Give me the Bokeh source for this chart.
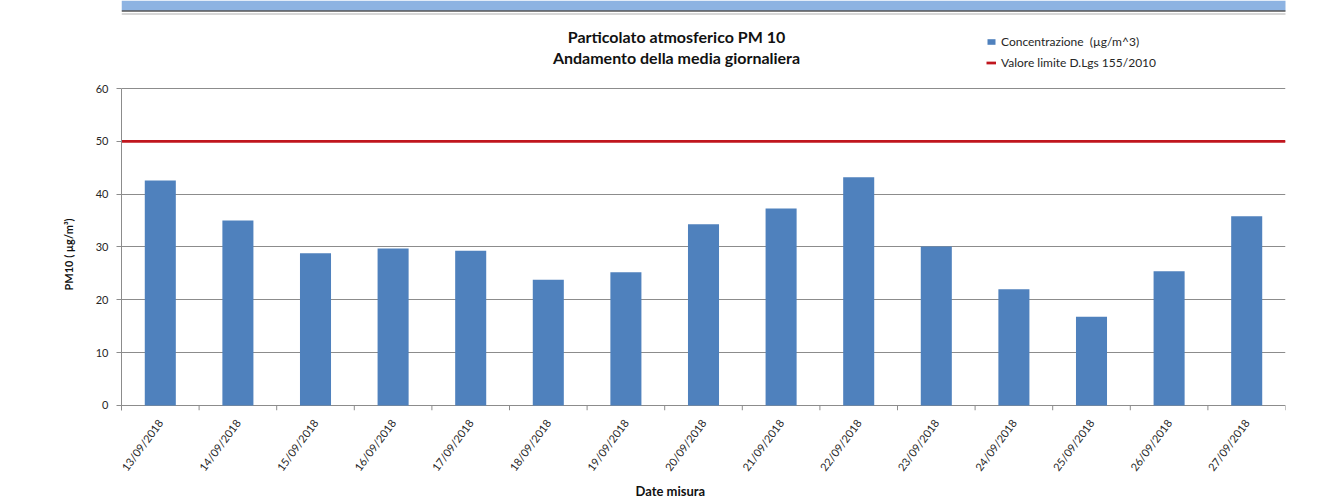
from bokeh.plotting import figure
from bokeh.models import (FactorRange, Range1d, FixedTicker, Legend, LegendItem, Label,
                          BoxAnnotation, Title)
from bokeh.embed import file_html
from bokeh.resources import INLINE

# ---- data ----
dates = ["13/09/2018", "14/09/2018", "15/09/2018", "16/09/2018", "17/09/2018",
         "18/09/2018", "19/09/2018", "20/09/2018", "21/09/2018", "22/09/2018",
         "23/09/2018", "24/09/2018", "25/09/2018", "26/09/2018", "27/09/2018"]
pm10 = [42.6, 35.0, 28.8, 29.7, 29.3, 23.8, 25.2, 34.3, 37.3, 43.2,
        30.1, 22.0, 16.8, 25.4, 35.8]
limit_value = 50
y_ticks = [0, 10, 20, 30, 40, 50, 60]
title_line1 = "Particolato atmosferico PM 10"
title_line2 = "Andamento della media giornaliera"
y_label = "PM10 ( µg/m³)"
x_label = "Date misura"
series_label = "Concentrazione  (µg/m^3)"
limit_label = "Valore limite D.Lgs 155/2010"

FONT = "Lato"
GRID = "#8c8c8c"
TXT = "#262626"
Y_START = -0.95   # room below zero for the category tick marks
Y_TOP = 76.66     # frame extends up to the top of the page (title / legend area)

W, H = 1318, 498
p = figure(width=W, height=H, output_backend="svg", toolbar_location=None,
           x_range=FactorRange(*dates, range_padding=0),
           y_range=Range1d(Y_START, Y_TOP),
           min_border_left=121, min_border_right=33,
           min_border_top=0, min_border_bottom=88)
p.outline_line_color = None
p.background_fill_color = "white"
p.border_fill_color = "white"
p.xgrid.grid_line_color = None

# y axis
yax = p.yaxis[0]
yax.ticker = FixedTicker(ticks=y_ticks)
yax.bounds = (Y_START, y_ticks[-1])
yax.axis_line_color = GRID
yax.major_tick_line_color = GRID
yax.major_tick_out = 5
yax.major_tick_in = 0
yax.minor_tick_line_color = None
yax.major_label_text_font = FONT
yax.major_label_text_font_size = "11px"
yax.major_label_text_color = TXT
yax.major_label_standoff = 8

p.ygrid.ticker = FixedTicker(ticks=y_ticks)
p.ygrid.grid_line_color = GRID
p.ygrid.grid_line_width = 1

# x axis (categorical)
xax = p.xaxis[0]
xax.axis_line_color = None
xax.major_tick_line_color = None
xax.minor_tick_line_color = None
xax.major_label_orientation = 0.93
xax.major_label_text_font = FONT
xax.major_label_text_font_size = "11px"
xax.major_label_text_color = TXT
xax.major_label_standoff = 4

# axis titles as side-panel titles
ytitle = Title(text=y_label, align="left", offset=120, text_font=FONT,
               text_font_size="11px", text_font_style="bold", text_color="#111111")
xtitle = Title(text=x_label, align="left", offset=514, text_font=FONT,
               text_font_size="13px", text_font_style="bold", text_color="#111111")
for t, so in [(ytitle, 36), (xtitle, 0)]:
    try:
        t.standoff = so
    except AttributeError:
        pass
p.add_layout(ytitle, "left")
p.add_layout(xtitle, "below")

# tick marks between categories (Excel style)
p.segment(x0=[(d, 0.5) for d in dates], y0=[0] * len(dates),
          x1=[(d, 0.5) for d in dates], y1=[Y_START] * len(dates),
          line_color=GRID, line_width=1)

bars = p.vbar(x=dates, top=pm10, width=0.4, fill_color="#4F81BD", line_color=None)
lim = p.line(x=[(dates[0], -0.5), (dates[-1], 0.5)], y=[limit_value, limit_value],
             line_color="#C0161E", line_width=2.75)

legend = Legend(items=[LegendItem(label=series_label, renderers=[bars]),
                       LegendItem(label=limit_label, renderers=[lim])],
                location=(865, 340), orientation="vertical")
legend.background_fill_alpha = 0
legend.border_line_color = None
legend.padding = 0
legend.margin = 0
legend.spacing = 6
legend.glyph_width = 10
legend.glyph_height = 7
legend.label_height = 14
legend.label_standoff = 5
legend.label_text_font = FONT
legend.label_text_font_size = "12px"
legend.label_text_color = TXT
p.add_layout(legend, "center")

# chart title (inside the frame area, screen units from frame bottom-left)
for txt, yy in [(title_line1, 374), (title_line2, 353)]:
    p.add_layout(Label(x=555, y=yy, x_units="screen", y_units="screen", text=txt,
                       text_align="center", text_baseline="middle", text_font=FONT,
                       text_font_size="16px", text_font_style="bold", text_color="#111111"))

# document decorations (band at the top of the page)
for top, bottom, color in [(410, 400, "#8DB3E2"), (400, 399, "black"), (397, 396, "#b0b0b0")]:
    p.add_layout(BoxAnnotation(left=0, right=W, top=top, bottom=bottom, left_units="screen",
                               right_units="screen", top_units="screen", bottom_units="screen",
                               fill_color=color, fill_alpha=1, line_color=None))

open("out.html", "w").write(file_html(p, INLINE))
